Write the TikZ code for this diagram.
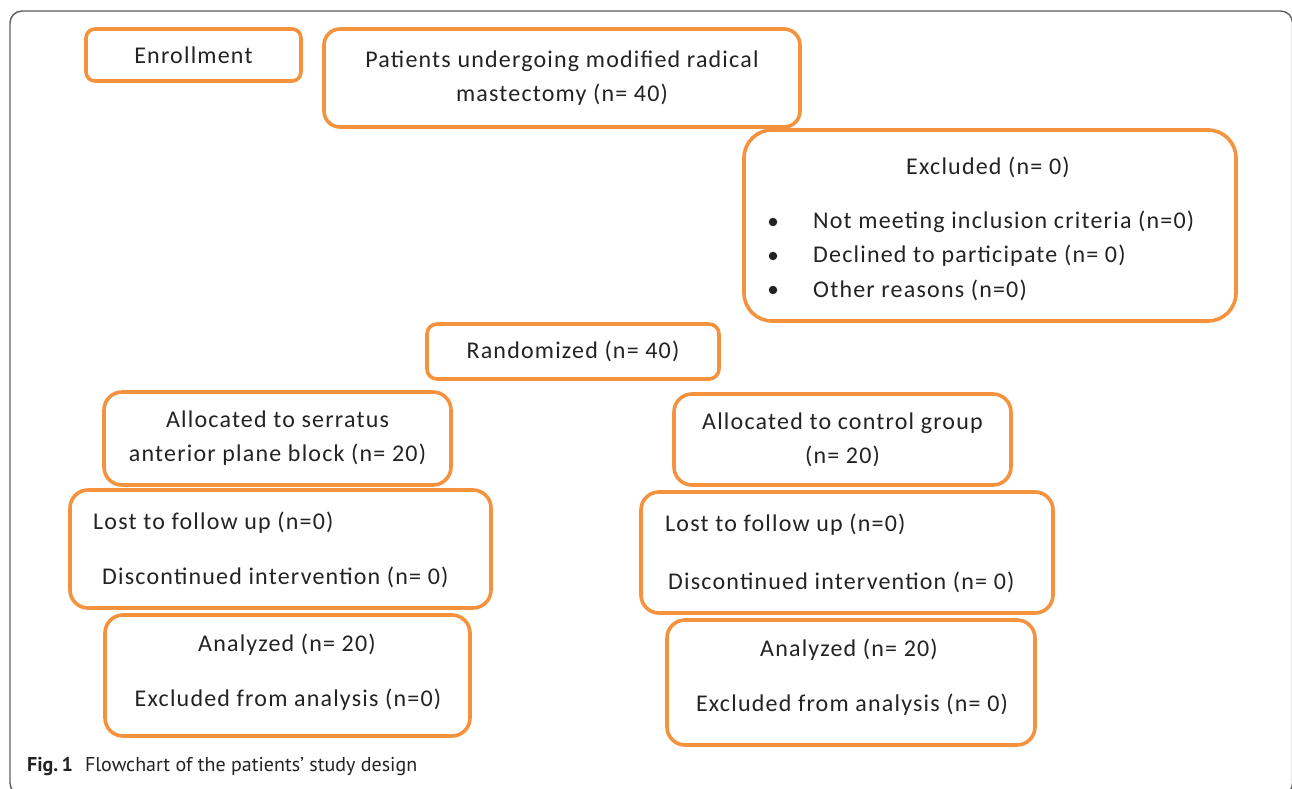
\documentclass[tikz,border=0pt]{standalone}
\usepackage{fontspec}
\setmainfont{Carlito}
\newfontfamily\boxfont[LetterSpace=5]{Carlito}
\newfontfamily\capfont{PT Sans}
\definecolor{boxorange}{RGB}{245,146,62}
\definecolor{frameg}{RGB}{95,95,95}
\definecolor{txt}{RGB}{35,35,35}
\tikzset{
  box/.style={draw=boxorange, line width=3.6pt, rounded corners=16pt, inner sep=0pt,
    font=\boxfont\fontsize{24}{34}\selectfont, text=txt, align=center},
  btxt/.style={inner sep=0pt, font=\boxfont\fontsize{24}{34}\selectfont, text=txt},
  bul/.style={circle, fill=txt, inner sep=0pt, minimum size=8.5pt},
}
\begin{document}
\begin{tikzpicture}[x=1pt,y=-1pt]
\useasboundingbox (0,0) rectangle (1292,789);
\fill[white] (0,0) rectangle (1292,789);
\draw[frameg, line width=1.4pt, rounded corners=12pt] (10,11) rectangle (1292.6,795);

% top row
\node[box, rounded corners=9pt, minimum width=215pt, minimum height=52pt] (enroll) at (193.5,55) {Enrollment};
\node[box, minimum width=476pt, minimum height=98pt] (patients) at (562,78)
  {Patients undergoing modified radical\\mastectomy (n= 40)};

% excluded
\node[box, rounded corners=28pt, minimum width=492pt, minimum height=191pt] (excl) at (990,225.5) {};
\node[btxt] (exclt) at (988,167) {Excluded (n= 0)};
\node[bul] (b1) at (773,222) {};
\node[bul] (b2) at (773,256) {};
\node[bul] (b3) at (773,290) {};
\node[btxt, anchor=west] (e1) at (813,222) {Not meeting inclusion criteria (n=0)};
\node[btxt, anchor=west] (e2) at (813,256) {Declined to participate (n= 0)};
\node[btxt, anchor=west] (e3) at (813,290) {Other reasons (n=0)};

% randomized
\node[box, rounded corners=10pt, minimum width=292pt, minimum height=55pt] (rand) at (573,351.5) {Randomized (n= 40)};

% left arm
\node[box, rounded corners=18pt, minimum width=347pt, minimum height=93pt] (allocL) at (277.5,438.5)
  {Allocated to serratus\\anterior plane block (n= 20)};
\node[box, rounded corners=18pt, minimum width=421pt, minimum height=118pt] (lostL) at (280.5,549) {};
\node[btxt, anchor=west] (lostL1) at (93,523) {Lost to follow up (n=0)};
\node[btxt, anchor=west] (lostL2) at (102,577) {Discontinued intervention (n= 0)};
\node[box, rounded corners=18pt, minimum width=365pt, minimum height=121pt] (anaL) at (287.5,675.5) {};
\node[btxt] (anaL1) at (287,645) {Analyzed (n= 20)};
\node[btxt] (anaL2) at (288,700) {Excluded from analysis (n=0)};

% right arm
\node[box, rounded corners=18pt, minimum width=337pt, minimum height=91pt] (allocR) at (842.5,439.5)
  {Allocated to control group\\(n= 20)};
\node[box, rounded corners=18pt, minimum width=412pt, minimum height=121pt] (lostR) at (847,552.5) {};
\node[btxt, anchor=west] (lostR1) at (665,525) {Lost to follow up (n=0)};
\node[btxt, anchor=west] (lostR2) at (668,582) {Discontinued intervention (n= 0)};
\node[box, rounded corners=18pt, minimum width=368pt, minimum height=125pt] (anaR) at (851,682.5) {};
\node[btxt] (anaR1) at (849,650) {Analyzed (n= 20)};
\node[btxt] (anaR2) at (852,705) {Excluded from analysis (n= 0)};

% caption
\node[anchor=base west, inner sep=0pt, text=txt, font=\capfont\fontsize{20}{24}\selectfont] (cap) at (27,771)
  {\textbf{Fig.\,1}\hspace{12pt}Flowchart of the patients’ study design};
\end{tikzpicture}
\end{document}
